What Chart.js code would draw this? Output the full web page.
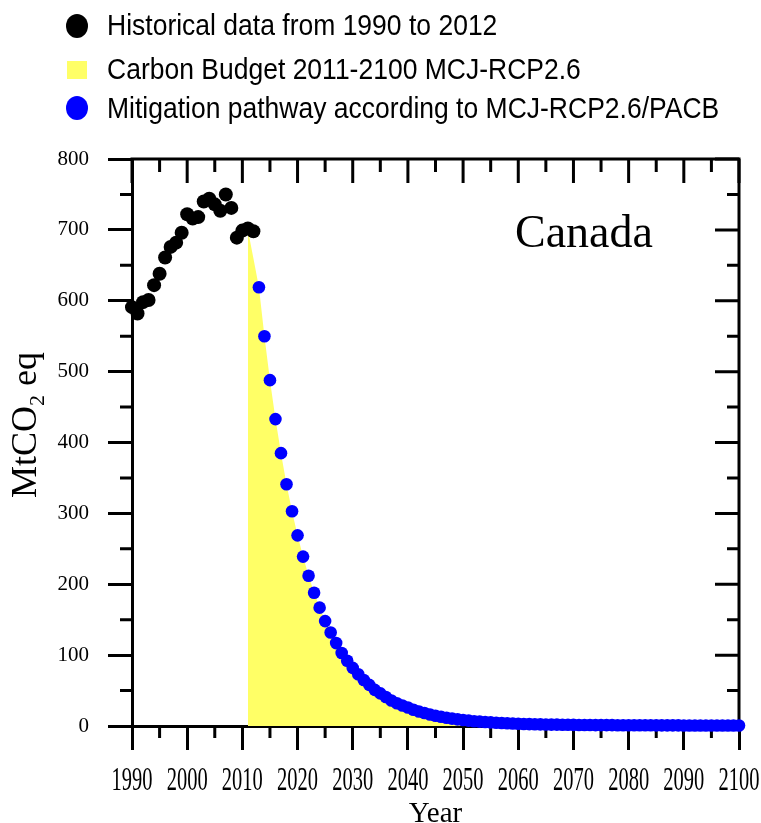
<!DOCTYPE html>
<html>
<head>
<meta charset="utf-8">
<script src="https://cdn.jsdelivr.net/npm/chart.js@4.4.0/dist/chart.umd.min.js"></script>
<style>
  body { margin: 0; background: #fff; }
  #wrap { position: relative; width: 761px; height: 823px; }
  #chart { position: absolute; left: 0; top: 0; }
  .lg-text {
    position: absolute; left: 107px; white-space: nowrap;
    font-family: "Liberation Sans", Arial, sans-serif; font-size: 26.5px;
    line-height: 30px; color: #000;
    transform: scaleY(1.1); transform-origin: left center;
  }
  .lg-mark { position: absolute; }
</style>
</head>
<body>
<div id="wrap">
  <canvas id="chart" width="761" height="823"></canvas>
  <div class="lg-mark" style="left:66px;top:14px;width:22px;height:24px;border-radius:50%;background:#000"></div>
  <div class="lg-text" style="top:10px">Historical data from 1990 to 2012</div>
  <div class="lg-mark" style="left:67px;top:61px;width:20px;height:18px;background:#ffff66"></div>
  <div class="lg-text" style="top:54px">Carbon Budget 2011-2100 MCJ-RCP2.6</div>
  <div class="lg-mark" style="left:66px;top:96px;width:22px;height:24px;border-radius:50%;background:#0000ff"></div>
  <div class="lg-text" style="top:93px">Mitigation pathway according to MCJ-RCP2.6/PACB</div>
</div>
<script>
document.addEventListener("DOMContentLoaded", () => {
  // historical emissions, 1990-2012 (MtCO2 eq)
  const histYears = [1990, 1991, 1992, 1993, 1994, 1995, 1996, 1997, 1998, 1999, 2000, 2001,
    2002, 2003, 2004, 2005, 2006, 2007, 2008, 2009, 2010, 2011, 2012];
  const histValues = [591, 582, 598, 601, 622, 638, 661, 676, 682, 696, 722, 716,
    718, 740, 744, 736, 727, 750, 731, 689, 699, 702, 698];

  // mitigation pathway, one value per year from 2013 to 2100
  const pathStart = 2013;
  const pathValues = [
    619, 550, 488, 433, 385, 341, 303, 269, 239, 212,
    188, 167, 148, 132, 117, 103, 92, 82, 73, 65,
    58, 51, 46, 41, 36, 32, 29, 26, 23, 20.5,
    18.3, 16.3, 14.5, 13, 11.6, 10.4, 9.3, 8.4, 7.6, 6.8,
    6.2, 5.6, 5.1, 4.6, 4.2, 3.8, 3.5, 3.2, 2.9, 2.7,
    2.5, 2.3, 2.1, 2.0, 1.9, 1.8, 1.7, 1.6, 1.5, 1.4,
    1.4, 1.3, 1.3, 1.2, 1.2, 1.1, 1.1, 1.1, 1.0, 1.0,
    1.0, 1.0, 0.9, 0.9, 0.9, 0.9, 0.9, 0.8, 0.8, 0.8,
    0.8, 0.8, 0.8, 0.8, 0.8, 0.8, 0.8, 0.8
  ];

  // carbon budget area starts at 2011 and then follows the pathway
  const budgetYears = [2011, 2012];
  const budgetValues = [700, 660];

  const xTicks = [1990, 2000, 2010, 2020, 2030, 2040, 2050, 2060, 2070, 2080, 2090, 2100];
  const yTicks = [0, 100, 200, 300, 400, 500, 600, 700, 800];

  const serif = '"Liberation Serif", "Times New Roman", serif';

  const histPoints = histYears.map((yr, i) => ({ x: yr, y: histValues[i] }));
  const pathPoints = pathValues.map((v, i) => ({ x: pathStart + i, y: v }));
  const budgetPoints = budgetYears.map((yr, i) => ({ x: yr, y: budgetValues[i] })).concat(pathPoints);

  const frame = {
    id: "frame",
    beforeDatasetsDraw(chart) {
      const { ctx, chartArea: a, scales: { x, y } } = chart;
      ctx.save();
      ctx.strokeStyle = "#000";
      ctx.lineWidth = 3;
      ctx.beginPath();
      ctx.moveTo(a.left - 1.5, a.top);
      ctx.lineTo(a.right, a.top);
      ctx.lineTo(a.right, a.bottom + 1.5);
      ctx.stroke();

      ctx.beginPath();
      for (let i = 0; i < xTicks.length; i++) {
        const px = x.getPixelForValue(xTicks[i]);
        ctx.moveTo(px, a.top); ctx.lineTo(px, a.top + 24);
        if (i < xTicks.length - 1) {
          const mx = x.getPixelForValue(xTicks[i] + 5);
          ctx.moveTo(mx, a.top); ctx.lineTo(mx, a.top + 13);
          ctx.moveTo(mx, a.bottom); ctx.lineTo(mx, a.bottom + 12);
        }
      }
      for (let i = 0; i < yTicks.length; i++) {
        const py = y.getPixelForValue(yTicks[i]);
        ctx.moveTo(a.right, py); ctx.lineTo(a.right - 24, py);
        if (i < yTicks.length - 1) {
          const my = y.getPixelForValue(yTicks[i] + 50);
          ctx.moveTo(a.right, my); ctx.lineTo(a.right - 12, my);
          ctx.moveTo(a.left, my); ctx.lineTo(a.left - 12, my);
        }
      }
      ctx.stroke();

      // x tick labels (tall, narrow digits as in the source)
      ctx.fillStyle = "#000";
      ctx.font = `20.5px ${serif}`;
      ctx.textAlign = "center";
      ctx.textBaseline = "middle";
      x.ticks.forEach((t) => {
        ctx.save();
        ctx.translate(x.getPixelForValue(t.value), 781);
        ctx.scale(1, 1.65);
        ctx.fillText(String(t.value), 0, 0);
        ctx.restore();
      });

      // axis titles
      ctx.textBaseline = "alphabetic";
      ctx.font = `29px ${serif}`;
      ctx.fillText("Year", (a.left + a.right) / 2, 822);

      ctx.save();
      ctx.translate(36, 425);
      ctx.rotate(-Math.PI / 2);
      ctx.textAlign = "left";
      const big = `36px ${serif}`, small = `22px ${serif}`;
      ctx.font = big; const w1 = ctx.measureText("MtCO").width;
      ctx.font = small; const w2 = ctx.measureText("2").width;
      ctx.font = big; const w3 = ctx.measureText(" eq").width;
      let cx = -(w1 + w2 + w3) / 2;
      ctx.font = big; ctx.fillText("MtCO", cx, 0); cx += w1;
      ctx.font = small; ctx.fillText("2", cx, 8); cx += w2;
      ctx.font = big; ctx.fillText(" eq", cx, 0);
      ctx.restore();

      ctx.font = `46px ${serif}`;
      ctx.textAlign = "left";
      ctx.fillText("Canada", 515, 247);
      ctx.restore();
    },
  };

  new Chart(document.getElementById("chart"), {
    type: "scatter",
    data: {
      datasets: [
        {
          type: "line",
          label: "Carbon Budget 2011-2100 MCJ-RCP2.6",
          data: budgetPoints,
          fill: "origin",
          backgroundColor: "#ffff66",
          borderWidth: 0,
          pointRadius: 0,
          tension: 0,
          order: 3,
        },
        {
          label: "Mitigation pathway according to MCJ-RCP2.6/PACB",
          data: pathPoints,
          backgroundColor: "#0000ff",
          borderWidth: 0,
          pointRadius: 6.3,
          clip: false,
          order: 2,
        },
        {
          label: "Historical data from 1990 to 2012",
          data: histPoints,
          backgroundColor: "#000",
          borderWidth: 0,
          pointRadius: 7,
          clip: false,
          order: 1,
        },
      ],
    },
    options: {
      responsive: false,
      animation: false,
      events: [],
      layout: { padding: { top: 159, right: 22, bottom: 0, left: 0 } },
      plugins: { legend: { display: false }, tooltip: { enabled: false } },
      scales: {
        x: {
          type: "linear",
          min: 1990,
          max: 2100,
          afterFit: (s) => { s.height = 97; },
          afterBuildTicks: (s) => { s.ticks = xTicks.map((v) => ({ value: v })); },
          ticks: { display: false },
          grid: { drawOnChartArea: false, drawTicks: true, tickLength: 24, tickWidth: 3, tickColor: "#000" },
          border: { display: true, color: "#000", width: 3 },
        },
        y: {
          min: 0,
          max: 800,
          afterFit: (s) => { s.width = 132; },
          afterBuildTicks: (s) => { s.ticks = yTicks.map((v) => ({ value: v })); },
          ticks: { color: "#000", font: { family: serif, size: 21 }, padding: 19 },
          grid: { drawOnChartArea: false, drawTicks: true, tickLength: 24, tickWidth: 3, tickColor: "#000" },
          border: { display: true, color: "#000", width: 3 },
        },
      },
    },
    plugins: [frame],
  });
});
</script>
</body>
</html>
